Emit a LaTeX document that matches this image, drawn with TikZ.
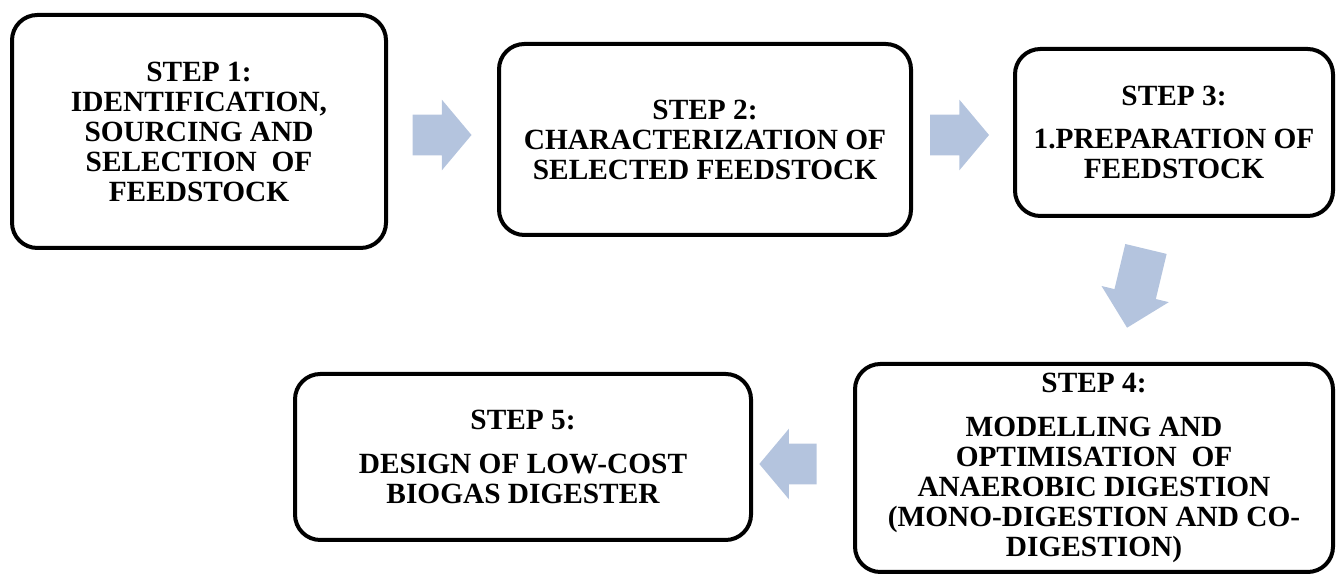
\documentclass[tikz,border=0pt]{standalone}
\usepackage{fontspec}
\setmainfont{Liberation Serif}
\usetikzlibrary{shapes.arrows}
\definecolor{arrowblue}{RGB}{180,196,222}
\begin{document}
\begin{tikzpicture}[x=0.75pt,y=0.75pt]
          \tikzstyle{stepbox}=[draw,line width=3pt,rounded corners=19pt,inner sep=0pt,
            align=center,font=\fontsize{22}{22.5}\selectfont\bfseries];
          \tikzstyle{blockarrow}=[single arrow,fill=arrowblue,draw=none,inner xsep=0pt,
            inner ysep=15pt,minimum width=0pt,minimum height=44.25pt,
            single arrow head extend=11.25pt,single arrow tip angle=100];
          \useasboundingbox (0,0) rectangle (1341,574);
          %\node (name) at (x,y) [stepbox,minimum width=..] {text};
          \node (1) at (199,442.5) [stepbox,minimum width=280.5pt,minimum height=174.75pt]
            {STEP 1:\\IDENTIFICATION,\\SOURCING AND\\SELECTION \ OF\\FEEDSTOCK};
          \node (2) at (705,434.5) [stepbox,minimum width=309pt,minimum height=143.25pt]
            {STEP 2:\\CHARACTERIZATION OF\\SELECTED FEEDSTOCK};
          \node (3) at (1174,441.5) [stepbox,minimum width=238.5pt,minimum height=125.25pt]
            {STEP 3:\\[10pt]1.PREPARATION OF\\FEEDSTOCK};
          \node (4) at (1094,106) [stepbox,minimum width=358.5pt,minimum height=156pt]
            {STEP 4:\\[10pt]MODELLING AND\\OPTIMISATION \ OF\\ANAEROBIC DIGESTION\\(MONO-DIGESTION AND CO-\\DIGESTION)};
          \node (5) at (523,117) [stepbox,minimum width=342pt,minimum height=124.5pt]
            {STEP 5:\\[10pt]DESIGN OF LOW-COST\\BIOGAS DIGESTER};
          % block arrows between the steps
          \node (a1) at (433.5,439) [blockarrow] {};
          \node (a2) at (951,439) [blockarrow] {};
          \node (a3) at (1139,296) [blockarrow,rotate=-103.5,minimum height=60.75pt,
            inner ysep=15.75pt,single arrow head extend=10pt,single arrow tip angle=90] {};
          \node (a4) at (796.5,110) [blockarrow,rotate=180,minimum height=43pt] {};
      \end{tikzpicture}
\end{document}
